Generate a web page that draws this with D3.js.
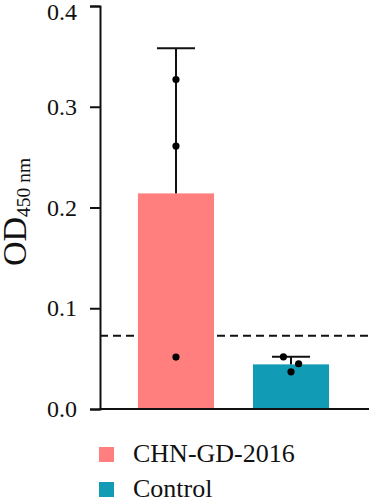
<!DOCTYPE html>
<html><head><meta charset="utf-8">
<script src="https://cdn.jsdelivr.net/npm/d3@7"></script>
<style>body{margin:0;background:#fff}svg{display:block}</style>
</head><body>
<script>
const categories = ["CHN-GD-2016", "Control"];
const means = [0.214, 0.0443];
const sd = [0.144, 0.0075];
const points = [[0.327, 0.261, 0.0515], [0.0518, 0.0449, 0.0369]];
const jitter = [[0, 0, 0], [-0.1, 0.1, 0]];
const cutoff = 0.0726;
const yTicks = [0, 0.1, 0.2, 0.3, 0.4];
const colors = ["#FF7F7F", "#129BB5"];

const W = 369, H = 500;
const font = "Liberation Serif";
const svg = d3.select("body").append("svg").attr("width", W).attr("height", H)
  .attr("font-family", font);

const y = d3.scaleLinear().domain([0, 0.4]).range([409, 6]);
const x = d3.scaleBand().domain(categories).range([100, 367]).paddingInner(0.339).paddingOuter(0.33);

// dashed cutoff line (behind bars)
svg.append("line").attr("x1", 100).attr("x2", W).attr("y1", y(cutoff)).attr("y2", y(cutoff))
  .attr("stroke", "#111").attr("stroke-width", 2).attr("stroke-dasharray", "8,5");

// bars
svg.selectAll("rect.bar").data(categories).join("rect").attr("class", "bar")
  .attr("x", d => x(d)).attr("width", x.bandwidth())
  .attr("y", (d, i) => y(means[i])).attr("height", (d, i) => y(0) - y(means[i]))
  .attr("fill", (d, i) => colors[i]);

// error bars and points
const cap = x.bandwidth() / 2;
categories.forEach((c, i) => {
  const cx = x(c) + x.bandwidth() / 2;
  svg.append("line").attr("x1", cx).attr("x2", cx).attr("y1", y(means[i])).attr("y2", y(means[i] + sd[i]))
    .attr("stroke", "#111").attr("stroke-width", 2);
  svg.append("line").attr("x1", cx - cap / 2).attr("x2", cx + cap / 2)
    .attr("y1", y(means[i] + sd[i])).attr("y2", y(means[i] + sd[i]))
    .attr("stroke", "#111").attr("stroke-width", 2);
  svg.selectAll(null).data(points[i]).join("circle")
    .attr("cx", (d, j) => cx + jitter[i][j] * x.bandwidth())
    .attr("cy", d => y(d)).attr("r", 3.6).attr("fill", "#000");
});

// y axis
const yAxis = svg.append("g").attr("transform", "translate(100,0)")
  .call(d3.axisLeft(y).tickValues(yTicks).tickFormat(d3.format(".1f")).tickSize(10).tickPadding(13));
yAxis.attr("font-family", font).attr("font-size", 24);
yAxis.select(".domain").attr("stroke", "#111").attr("stroke-width", 2);
yAxis.selectAll(".tick line").attr("stroke", "#111").attr("stroke-width", 2);
yAxis.selectAll(".tick text").attr("font-family", font).attr("font-size", 24).attr("fill", "#111")
  .attr("dy", d => d === 0.4 ? "0.55em" : "0.32em");

// x axis line
svg.append("line").attr("x1", 99).attr("x2", W).attr("y1", y(0)).attr("y2", y(0))
  .attr("stroke", "#111").attr("stroke-width", 2);

// y label
const yl = svg.append("text").attr("transform", "translate(26,266) rotate(-90)")
  .attr("font-family", font).attr("font-size", 34).attr("fill", "#111");
yl.append("tspan").text("OD");
yl.append("tspan").attr("dy", 4).attr("font-size", 19.5).text("450 nm");

// legend
const lg = svg.append("g");
categories.forEach((c, i) => {
  lg.append("rect").attr("x", 99).attr("y", 447 + i * 35).attr("width", 15).attr("height", 15).attr("fill", colors[i]);
  lg.append("text").attr("x", 133).attr("y", 462 + i * 35).attr("font-family", font).attr("font-size", 26)
    .attr("fill", "#111").text(c);
});
</script>
</body></html>
